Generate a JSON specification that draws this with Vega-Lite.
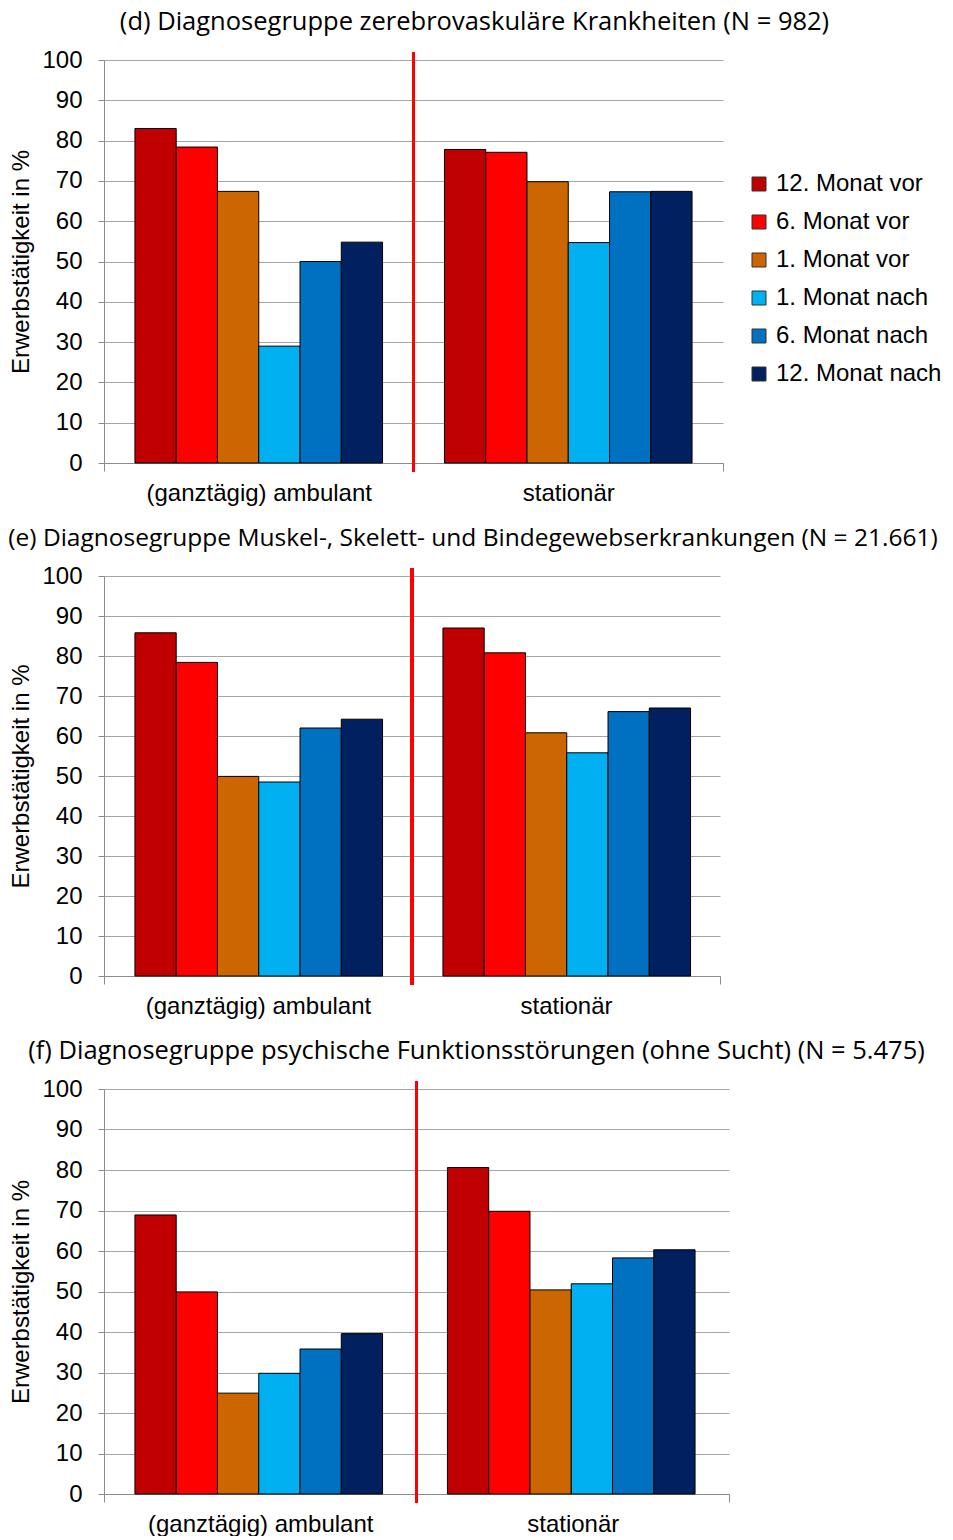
{
  "$schema": "https://vega.github.io/schema/vega-lite/v6.json",
  "padding": {"left": 8, "top": 9, "right": 0, "bottom": 0},
  "background": "white",
  "spacing": 20,
  "datasets": {
    "d": [
      {"group": "(ganztägig) ambulant", "series": "12. Monat vor", "value": 83.0},
      {"group": "(ganztägig) ambulant", "series": "6. Monat vor", "value": 78.4},
      {"group": "(ganztägig) ambulant", "series": "1. Monat vor", "value": 67.4},
      {"group": "(ganztägig) ambulant", "series": "1. Monat nach", "value": 29.0},
      {"group": "(ganztägig) ambulant", "series": "6. Monat nach", "value": 50.0},
      {"group": "(ganztägig) ambulant", "series": "12. Monat nach", "value": 54.8},
      {"group": "stationär", "series": "12. Monat vor", "value": 77.8},
      {"group": "stationär", "series": "6. Monat vor", "value": 77.1},
      {"group": "stationär", "series": "1. Monat vor", "value": 69.8},
      {"group": "stationär", "series": "1. Monat nach", "value": 54.7},
      {"group": "stationär", "series": "6. Monat nach", "value": 67.3},
      {"group": "stationär", "series": "12. Monat nach", "value": 67.4}
    ],
    "e": [
      {"group": "(ganztägig) ambulant", "series": "12. Monat vor", "value": 85.8},
      {"group": "(ganztägig) ambulant", "series": "6. Monat vor", "value": 78.4},
      {"group": "(ganztägig) ambulant", "series": "1. Monat vor", "value": 49.9},
      {"group": "(ganztägig) ambulant", "series": "1. Monat nach", "value": 48.5},
      {"group": "(ganztägig) ambulant", "series": "6. Monat nach", "value": 62.0},
      {"group": "(ganztägig) ambulant", "series": "12. Monat nach", "value": 64.2},
      {"group": "stationär", "series": "12. Monat vor", "value": 87.0},
      {"group": "stationär", "series": "6. Monat vor", "value": 80.8},
      {"group": "stationär", "series": "1. Monat vor", "value": 60.8},
      {"group": "stationär", "series": "1. Monat nach", "value": 55.8},
      {"group": "stationär", "series": "6. Monat nach", "value": 66.1},
      {"group": "stationär", "series": "12. Monat nach", "value": 67.0}
    ],
    "f": [
      {"group": "(ganztägig) ambulant", "series": "12. Monat vor", "value": 68.9},
      {"group": "(ganztägig) ambulant", "series": "6. Monat vor", "value": 49.9},
      {"group": "(ganztägig) ambulant", "series": "1. Monat vor", "value": 24.9},
      {"group": "(ganztägig) ambulant", "series": "1. Monat nach", "value": 29.8},
      {"group": "(ganztägig) ambulant", "series": "6. Monat nach", "value": 35.8},
      {"group": "(ganztägig) ambulant", "series": "12. Monat nach", "value": 39.6},
      {"group": "stationär", "series": "12. Monat vor", "value": 80.6},
      {"group": "stationär", "series": "6. Monat vor", "value": 69.8},
      {"group": "stationär", "series": "1. Monat vor", "value": 50.4},
      {"group": "stationär", "series": "1. Monat nach", "value": 51.9},
      {"group": "stationär", "series": "6. Monat nach", "value": 58.3},
      {"group": "stationär", "series": "12. Monat nach", "value": 60.3}
    ]
  },
  "vconcat": [
    {
      "title": {"text": "(d) Diagnosegruppe zerebrovaskuläre Krankheiten (N = 982)", "dx": 61},
      "width": 619,
      "height": 403,
      "data": {"name": "d"},
      "layer": [
        {
          "mark": {"type": "bar", "stroke": "#000000", "strokeWidth": 1},
          "encoding": {
            "x": {"field": "group", "type": "nominal", "sort": null, "scale": {"paddingInner": 0, "paddingOuter": 0}, "axis": {"title": null, "labelAngle": 0, "tickBand": "extent", "grid": false, "labelLimit": 0}},
            "xOffset": {"field": "series", "type": "nominal", "sort": ["12. Monat vor", "6. Monat vor", "1. Monat vor", "1. Monat nach", "6. Monat nach", "12. Monat nach"], "scale": {"paddingInner": 0, "paddingOuter": 0.75}},
            "y": {"field": "value", "type": "quantitative", "scale": {"domain": [0, 100], "nice": false}, "axis": {"title": "Erwerbstätigkeit in %", "values": [0, 10, 20, 30, 40, 50, 60, 70, 80, 90, 100], "tickCount": 11, "labelOverlap": false, "grid": true}},
            "color": {"field": "series", "type": "nominal", "scale": {"domain": ["12. Monat vor", "6. Monat vor", "1. Monat vor", "1. Monat nach", "6. Monat nach", "12. Monat nach"], "range": ["#C00000", "#FF0000", "#CC6600", "#00B0F0", "#0070C0", "#002060"]}, "legend": {"orient": "none", "legendX": 643, "legendY": 112}}
          }
        },
        {
          "mark": {"type": "rule", "color": "#FF0000", "strokeWidth": 3},
          "encoding": {
            "x": {"datum": "stationär", "bandPosition": 0},
            "y": {"datum": 102},
            "y2": {"datum": -2.2}
          }
        }
      ]
    },
    {
      "title": {"text": "(e) Diagnosegruppe Muskel-, Skelett- und Bindegewebserkrankungen (N = 21.661)", "dx": 61, "fontSize": 24.5},
      "width": 616,
      "height": 400,
      "data": {"name": "e"},
      "layer": [
        {
          "mark": {"type": "bar", "stroke": "#000000", "strokeWidth": 1},
          "encoding": {
            "x": {"field": "group", "type": "nominal", "sort": null, "scale": {"paddingInner": 0, "paddingOuter": 0}, "axis": {"title": null, "labelAngle": 0, "tickBand": "extent", "grid": false, "labelLimit": 0}},
            "xOffset": {"field": "series", "type": "nominal", "sort": ["12. Monat vor", "6. Monat vor", "1. Monat vor", "1. Monat nach", "6. Monat nach", "12. Monat nach"], "scale": {"paddingInner": 0, "paddingOuter": 0.75}},
            "y": {"field": "value", "type": "quantitative", "scale": {"domain": [0, 100], "nice": false}, "axis": {"title": "Erwerbstätigkeit in %", "values": [0, 10, 20, 30, 40, 50, 60, 70, 80, 90, 100], "tickCount": 11, "labelOverlap": false, "grid": true}},
            "color": {"field": "series", "type": "nominal", "scale": {"domain": ["12. Monat vor", "6. Monat vor", "1. Monat vor", "1. Monat nach", "6. Monat nach", "12. Monat nach"], "range": ["#C00000", "#FF0000", "#CC6600", "#00B0F0", "#0070C0", "#002060"]}, "legend": {"orient": "none", "legendX": 641, "legendY": 110}}
          }
        },
        {
          "mark": {"type": "rule", "color": "#FF0000", "strokeWidth": 3},
          "encoding": {
            "x": {"datum": "stationär", "bandPosition": 0},
            "y": {"datum": 102},
            "y2": {"datum": -2.2}
          }
        }
      ]
    },
    {
      "title": {"text": "(f) Diagnosegruppe psychische Funktionsstörungen (ohne Sucht) (N = 5.475)", "dx": 60},
      "width": 625,
      "height": 405,
      "data": {"name": "f"},
      "layer": [
        {
          "mark": {"type": "bar", "stroke": "#000000", "strokeWidth": 1},
          "encoding": {
            "x": {"field": "group", "type": "nominal", "sort": null, "scale": {"paddingInner": 0, "paddingOuter": 0}, "axis": {"title": null, "labelAngle": 0, "tickBand": "extent", "grid": false, "labelLimit": 0}},
            "xOffset": {"field": "series", "type": "nominal", "sort": ["12. Monat vor", "6. Monat vor", "1. Monat vor", "1. Monat nach", "6. Monat nach", "12. Monat nach"], "scale": {"paddingInner": 0, "paddingOuter": 0.75}},
            "y": {"field": "value", "type": "quantitative", "scale": {"domain": [0, 100], "nice": false}, "axis": {"title": "Erwerbstätigkeit in %", "values": [0, 10, 20, 30, 40, 50, 60, 70, 80, 90, 100], "tickCount": 11, "labelOverlap": false, "grid": true}},
            "color": {"field": "series", "type": "nominal", "scale": {"domain": ["12. Monat vor", "6. Monat vor", "1. Monat vor", "1. Monat nach", "6. Monat nach", "12. Monat nach"], "range": ["#C00000", "#FF0000", "#CC6600", "#00B0F0", "#0070C0", "#002060"]}, "legend": {"orient": "none", "legendX": 650, "legendY": 111}}
          }
        },
        {
          "mark": {"type": "rule", "color": "#FF0000", "strokeWidth": 3},
          "encoding": {
            "x": {"datum": "stationär", "bandPosition": 0},
            "y": {"datum": 102},
            "y2": {"datum": -2.2}
          }
        }
      ]
    }
  ],
  "config": {
    "view": {"stroke": null},
    "title": {"font": "Open Sans", "fontSize": 25.5, "fontWeight": "normal", "color": "#000000", "anchor": "middle", "offset": 13},
    "axis": {
      "labelFont": "Liberation Sans",
      "labelFontSize": 24,
      "labelColor": "#000000",
      "labelOverlap": false,
      "titleFont": "Liberation Sans",
      "titleFontSize": 24,
      "titleFontWeight": "normal",
      "titleColor": "#000000",
      "domainColor": "#8c8c8c",
      "tickColor": "#8c8c8c",
      "gridColor": "#a6a6a6",
      "gridOpacity": 1
    },
    "axisX": {"tickSize": 8, "labelPadding": 10},
    "axisY": {"tickSize": 6, "labelPadding": 16, "titlePadding": 8, "labelOverlap": false, "tickCount": 11},
    "legend": {
      "title": null,
      "labelFont": "Liberation Sans",
      "labelFontSize": 24,
      "labelColor": "#000000",
      "symbolType": "square",
      "symbolSize": 196,
      "symbolStrokeColor": "#333333",
      "symbolStrokeWidth": 1,
      "symbolOpacity": 1,
      "rowPadding": 14,
      "labelOffset": 5,
      "padding": 0,
      "labelLimit": 300
    }
  }
}
